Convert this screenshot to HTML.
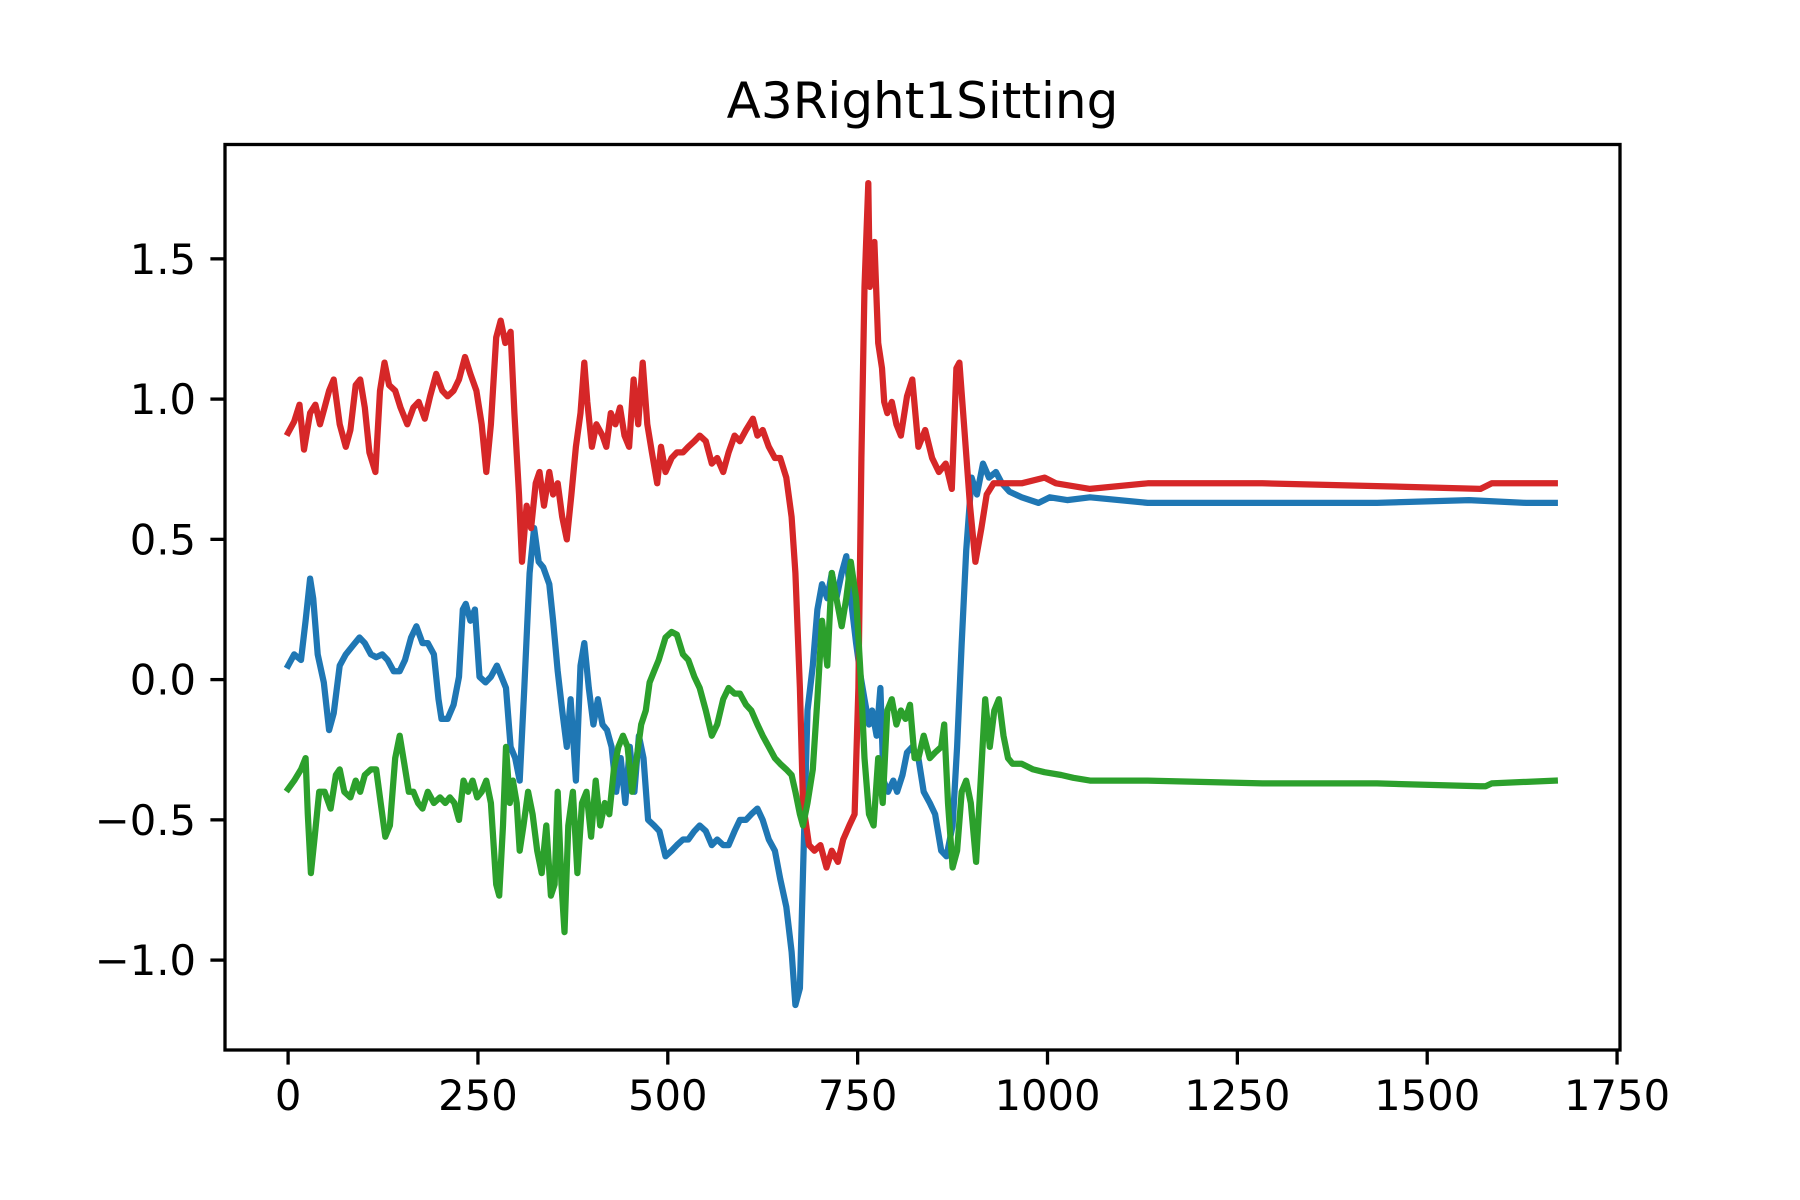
<!DOCTYPE html>
<html><head><meta charset="utf-8"><style>
html,body{margin:0;padding:0;background:#fff;}
svg{display:block;font-family:"DejaVu Sans","Liberation Sans",sans-serif;}
</style></head><body>
<svg id="chart" width="1800" height="1200" viewBox="0 0 1800 1200" xmlns="http://www.w3.org/2000/svg">
<rect x="0" y="0" width="1800" height="1200" fill="#fff"/>
<text x="922.5" y="118" font-size="50" text-anchor="middle" fill="#000">A3Right1Sitting</text>
<g id="series"></g>
<g id="axes"></g>
<rect x="225" y="144.5" width="1395" height="905.5" fill="none" stroke="#000" stroke-width="3.3"/>
</svg>
<script>
const xTicks = [0, 250, 500, 750, 1000, 1250, 1500, 1750];
const xTickLabels = ["0", "250", "500", "750", "1000", "1250", "1500", "1750"];
const yTicks = [-1.0, -0.5, 0.0, 0.5, 1.0, 1.5];
const yTickLabels = ["\u22121.0", "\u22120.5", "0.0", "0.5", "1.0", "1.5"];

const redX = [0,8,15,21,29,36,42,48,54,60,68,76,82,89,95,101,107,115,121,127,133,141,148,157,165,172,180,187,195,203,210,218,225,233,240,248,255,261,267,274,280,286,293,298,304,308,314,320,326,331,337,344,349,355,361,367,373,379,385,390,394,400,406,414,419,425,431,437,443,449,455,461,467,473,479,486,491,497,505,512,520,527,535,542,550,558,565,573,580,588,595,603,612,618,625,633,641,648,656,663,668,674,678,686,693,701,709,716,724,731,739,746,751,755,759,764,766,772,777,782,785,789,795,801,807,815,822,830,839,848,857,866,874,880,884,890,898,905,913,920,929,943,966,996,1011,1056,1132,1283,1434,1570,1585,1668];
const redY = [0.88,0.92,0.98,0.82,0.95,0.98,0.91,0.97,1.03,1.07,0.91,0.83,0.89,1.05,1.07,0.97,0.81,0.74,1.03,1.13,1.05,1.03,0.97,0.91,0.97,0.99,0.93,1.01,1.09,1.03,1.01,1.03,1.07,1.15,1.09,1.03,0.91,0.74,0.91,1.22,1.28,1.2,1.24,0.95,0.66,0.42,0.62,0.54,0.70,0.74,0.62,0.74,0.66,0.70,0.58,0.50,0.66,0.83,0.95,1.13,0.99,0.83,0.91,0.87,0.83,0.95,0.91,0.97,0.87,0.83,1.07,0.91,1.13,0.91,0.81,0.70,0.83,0.74,0.79,0.81,0.81,0.83,0.85,0.87,0.85,0.77,0.79,0.74,0.81,0.87,0.85,0.89,0.93,0.87,0.89,0.83,0.79,0.79,0.72,0.58,0.38,-0.03,-0.44,-0.59,-0.61,-0.59,-0.67,-0.61,-0.65,-0.57,-0.52,-0.48,-0.03,0.79,1.40,1.77,1.40,1.56,1.2,1.11,0.99,0.95,0.99,0.91,0.87,1.01,1.07,0.83,0.89,0.79,0.74,0.77,0.68,1.11,1.13,0.91,0.62,0.42,0.54,0.66,0.70,0.70,0.70,0.72,0.70,0.68,0.70,0.70,0.69,0.68,0.70,0.70];

const blueX = [0,8,17,23,29,33,39,47,54,60,68,76,85,94,101,109,116,124,131,139,147,154,162,169,177,184,192,198,202,210,218,225,230,234,240,246,252,260,267,275,281,287,293,299,305,311,318,324,330,336,344,349,355,361,367,372,379,385,390,396,402,408,414,420,426,432,438,444,450,456,462,468,474,482,489,497,505,512,520,527,535,542,550,558,565,573,580,588,595,603,610,618,625,633,641,648,656,663,668,674,678,684,691,697,703,710,716,722,729,735,741,748,754,759,765,769,775,780,784,790,797,802,809,815,822,830,837,845,852,860,867,875,881,887,893,900,907,915,923,932,940,950,966,988,1003,1026,1056,1132,1283,1434,1555,1630,1668];
const blueY = [0.05,0.09,0.07,0.21,0.36,0.29,0.09,-0.01,-0.18,-0.12,0.05,0.09,0.12,0.15,0.13,0.09,0.08,0.09,0.07,0.03,0.03,0.07,0.15,0.19,0.13,0.13,0.09,-0.07,-0.14,-0.14,-0.09,0.01,0.25,0.27,0.21,0.25,0.01,-0.01,0.01,0.05,0.01,-0.03,-0.24,-0.28,-0.36,-0.03,0.38,0.54,0.42,0.40,0.34,0.21,0.03,-0.11,-0.24,-0.07,-0.36,0.05,0.13,-0.03,-0.16,-0.07,-0.16,-0.18,-0.24,-0.40,-0.28,-0.44,-0.24,-0.40,-0.20,-0.28,-0.50,-0.52,-0.54,-0.63,-0.61,-0.59,-0.57,-0.57,-0.54,-0.52,-0.54,-0.59,-0.57,-0.59,-0.59,-0.54,-0.50,-0.50,-0.48,-0.46,-0.50,-0.57,-0.61,-0.71,-0.81,-0.97,-1.16,-1.10,-0.69,-0.11,0.05,0.25,0.34,0.29,0.38,0.29,0.38,0.44,0.29,0.13,0.01,-0.07,-0.16,-0.11,-0.20,-0.03,-0.36,-0.40,-0.36,-0.40,-0.34,-0.26,-0.24,-0.28,-0.40,-0.44,-0.48,-0.61,-0.63,-0.52,-0.24,0.13,0.46,0.72,0.66,0.77,0.72,0.74,0.70,0.67,0.65,0.63,0.65,0.64,0.65,0.63,0.63,0.63,0.64,0.63,0.63];

const greenX = [0,8,17,23,26,30,35,41,48,56,63,68,74,82,89,95,101,109,116,122,128,134,141,147,153,159,165,171,177,184,192,200,207,213,219,225,231,237,243,249,255,261,267,274,278,283,287,292,296,301,305,310,316,322,328,334,340,346,351,355,360,364,369,375,381,387,393,399,405,411,417,423,429,435,441,447,453,459,465,471,476,482,488,497,505,512,520,527,535,542,550,558,565,573,580,588,595,603,610,618,625,633,641,648,656,663,668,674,678,684,691,697,703,710,716,722,729,735,741,748,754,759,765,771,777,783,789,795,801,807,813,819,825,830,837,845,852,860,864,869,875,881,887,893,899,906,912,918,924,930,936,942,948,954,966,981,996,1018,1034,1056,1132,1283,1434,1570,1577,1585,1668];
const greenY = [-0.39,-0.36,-0.32,-0.28,-0.48,-0.69,-0.56,-0.40,-0.40,-0.46,-0.34,-0.32,-0.40,-0.42,-0.36,-0.40,-0.34,-0.32,-0.32,-0.44,-0.56,-0.52,-0.28,-0.20,-0.30,-0.40,-0.40,-0.44,-0.46,-0.40,-0.44,-0.42,-0.44,-0.42,-0.44,-0.50,-0.36,-0.40,-0.36,-0.42,-0.40,-0.36,-0.44,-0.73,-0.77,-0.52,-0.24,-0.44,-0.36,-0.44,-0.61,-0.52,-0.40,-0.48,-0.61,-0.69,-0.52,-0.77,-0.73,-0.40,-0.73,-0.90,-0.52,-0.40,-0.69,-0.44,-0.40,-0.56,-0.36,-0.52,-0.44,-0.48,-0.32,-0.24,-0.20,-0.24,-0.40,-0.28,-0.16,-0.11,-0.01,0.03,0.07,0.15,0.17,0.16,0.09,0.07,0.01,-0.03,-0.11,-0.20,-0.16,-0.07,-0.03,-0.05,-0.05,-0.09,-0.11,-0.16,-0.20,-0.24,-0.28,-0.30,-0.32,-0.34,-0.40,-0.48,-0.52,-0.44,-0.32,-0.07,0.21,0.05,0.38,0.29,0.19,0.29,0.42,0.29,0.01,-0.28,-0.48,-0.52,-0.28,-0.44,-0.11,-0.07,-0.16,-0.11,-0.14,-0.09,-0.28,-0.28,-0.20,-0.28,-0.26,-0.24,-0.16,-0.44,-0.67,-0.61,-0.40,-0.36,-0.44,-0.65,-0.36,-0.07,-0.24,-0.11,-0.07,-0.20,-0.28,-0.30,-0.30,-0.32,-0.33,-0.34,-0.35,-0.36,-0.36,-0.37,-0.37,-0.38,-0.38,-0.37,-0.36];

const NS = "http://www.w3.org/2000/svg";
const X0 = 288.1, XS = 0.7594;
const Y0 = 679.6, YS = 280.5;
function xScale(v){ return X0 + v * XS; }
function yScale(v){ return Y0 - v * YS; }

const seriesG = document.getElementById('series');
function drawLine(xs, ys, color, name){
  const p = document.createElementNS(NS, 'path');
  let d = '';
  for (let i = 0; i < xs.length; i++) {
    d += (i ? 'L' : 'M') + xScale(xs[i]).toFixed(1) + ',' + yScale(ys[i]).toFixed(1);
  }
  p.setAttribute('d', d);
  p.setAttribute('fill', 'none');
  p.setAttribute('stroke', color);
  p.setAttribute('stroke-width', '6.25');
  p.setAttribute('stroke-linejoin', 'round');
  p.setAttribute('stroke-linecap', 'square');
  
  
  seriesG.appendChild(p);
}
drawLine(blueX, blueY, '#1f77b4', 'blue-series-line');
drawLine(redX, redY, '#d62728', 'red-series-line');
drawLine(greenX, greenY, '#2ca02c', 'green-series-line');

const axesG = document.getElementById('axes');
for (let i = 0; i < xTicks.length; i++) {
  const x = xScale(xTicks[i]);
  const t = document.createElementNS(NS, 'line');
  t.setAttribute('x1', x); t.setAttribute('x2', x);
  t.setAttribute('y1', 1050); t.setAttribute('y2', 1064.6);
  t.setAttribute('stroke', '#000'); t.setAttribute('stroke-width', '3.3');
  
  
  axesG.appendChild(t);
  const l = document.createElementNS(NS, 'text');
  l.setAttribute('x', x); l.setAttribute('y', 1110);
  l.setAttribute('font-size', '41.7'); l.setAttribute('text-anchor', 'middle');
  l.textContent = xTickLabels[i];
  
  
  axesG.appendChild(l);
}
for (let i = 0; i < yTicks.length; i++) {
  const y = yScale(yTicks[i]);
  const t = document.createElementNS(NS, 'line');
  t.setAttribute('x1', 210.4); t.setAttribute('x2', 225);
  t.setAttribute('y1', y); t.setAttribute('y2', y);
  t.setAttribute('stroke', '#000'); t.setAttribute('stroke-width', '3.3');
  
  
  axesG.appendChild(t);
  const l = document.createElementNS(NS, 'text');
  l.setAttribute('x', 196); l.setAttribute('y', y + 15);
  l.setAttribute('font-size', '41.7'); l.setAttribute('text-anchor', 'end');
  l.textContent = yTickLabels[i];
  
  
  axesG.appendChild(l);
}
</script>
</body></html>
